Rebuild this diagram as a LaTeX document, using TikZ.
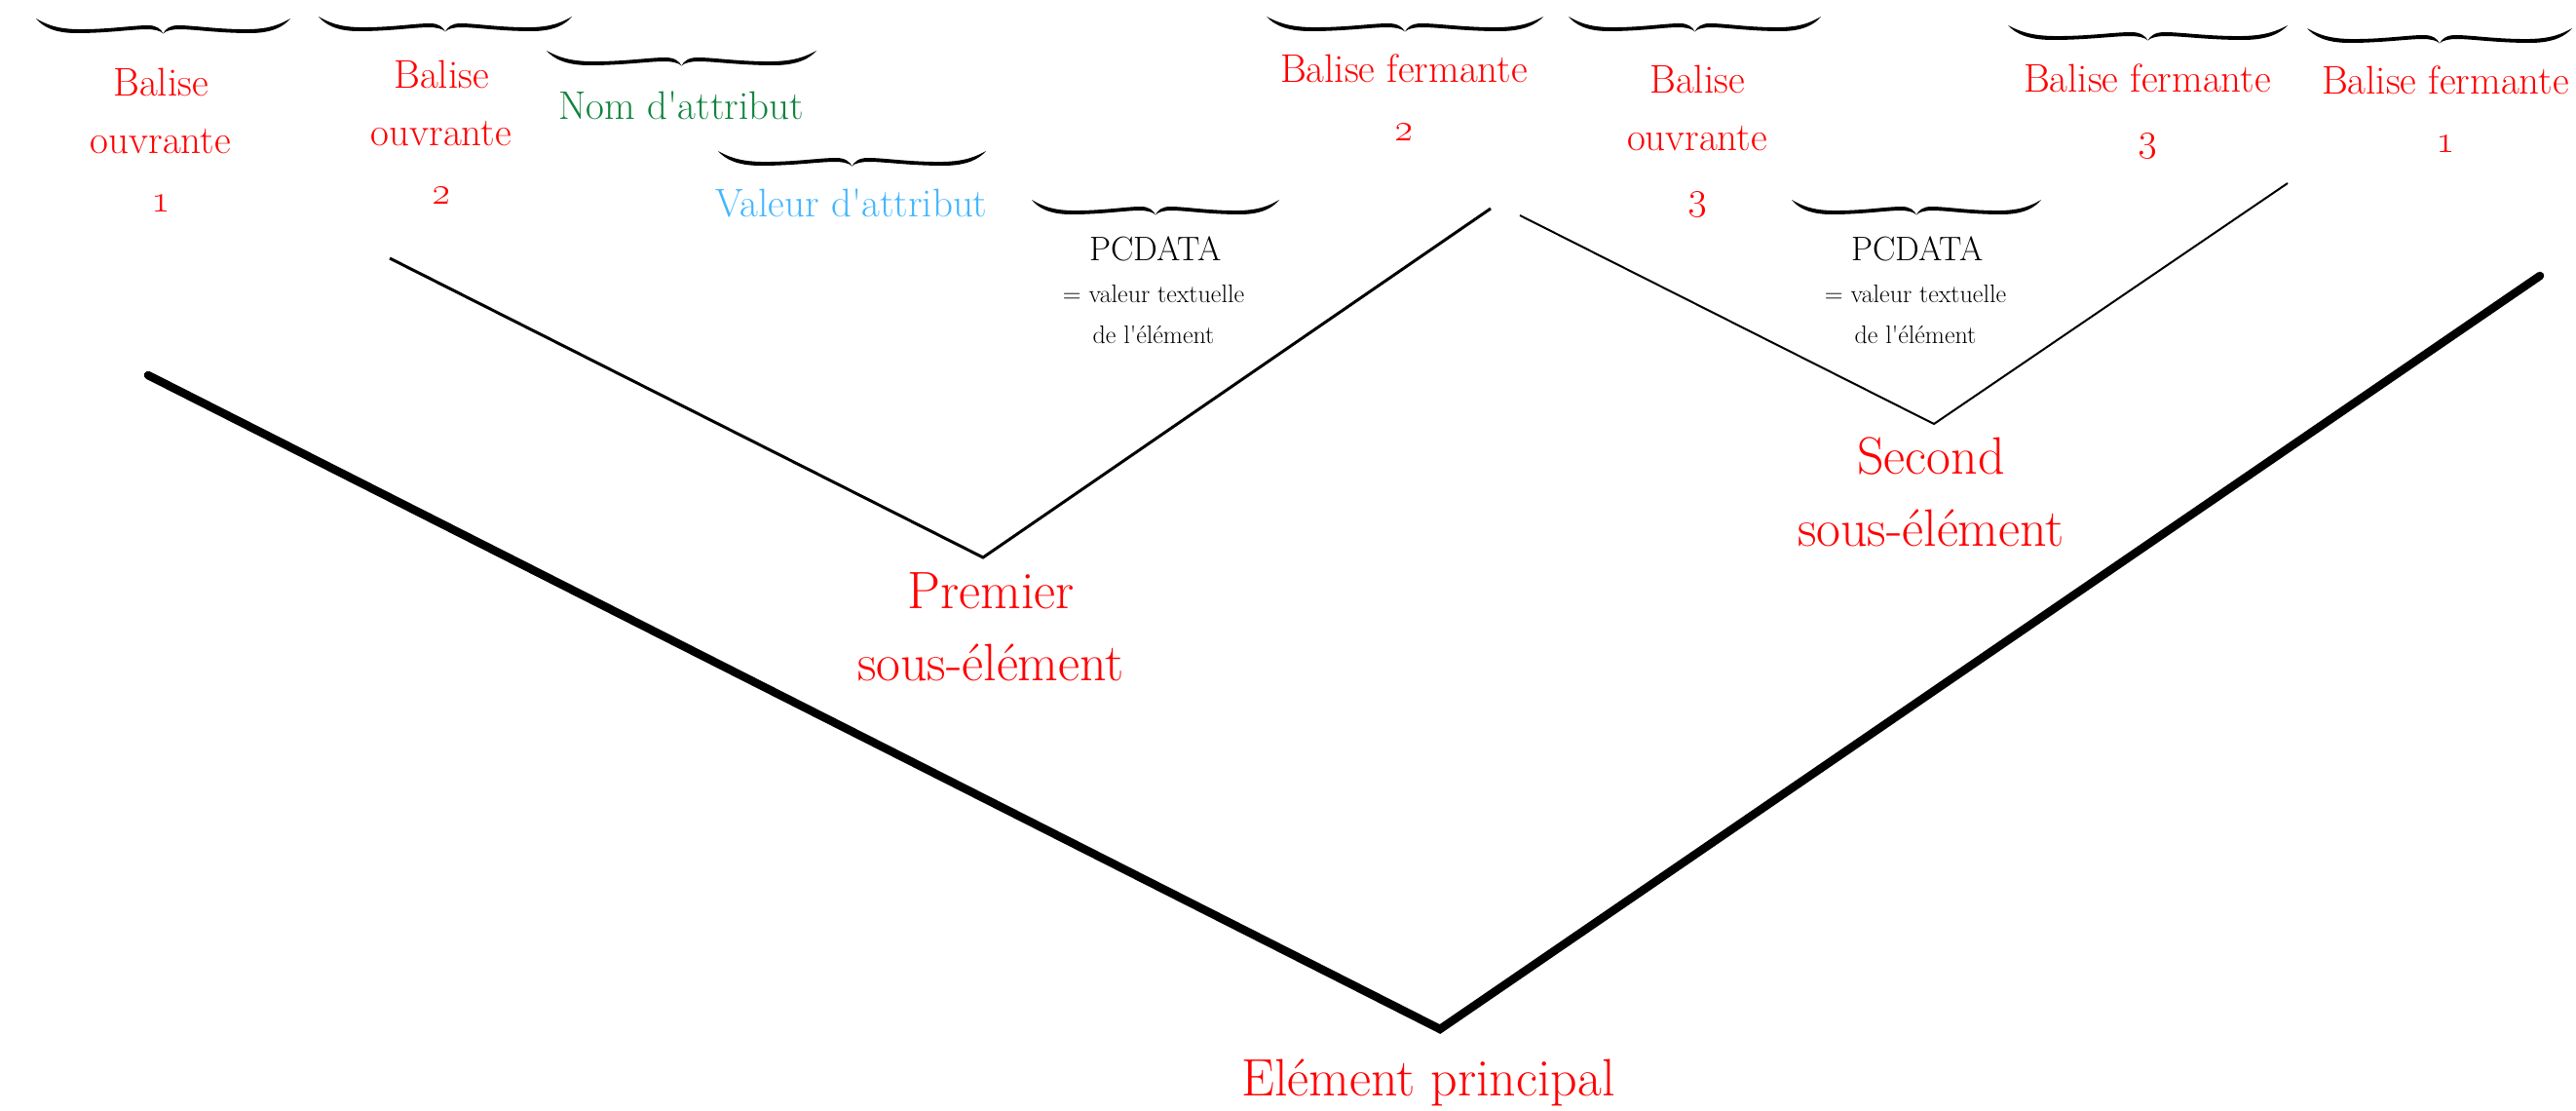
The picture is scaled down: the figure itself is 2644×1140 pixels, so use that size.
\RequirePackage{fix-cm}
\documentclass[tikz,border=0pt]{standalone}
\definecolor{lred}{RGB}{255,0,0}
\definecolor{lgreen}{RGB}{16,132,62}
\definecolor{lblue}{RGB}{66,182,255}
\tikzset{
  lbl/.style={font=\fontsize{41}{59.5}\selectfont, text=lred, align=center, inner sep=0pt, anchor=base},
  big/.style={font=\fontsize{54}{74}\selectfont, text=lred, align=center, inner sep=0pt, anchor=base},
  pchead/.style={font=\fontsize{35}{43}\selectfont, align=center, inner sep=0pt, anchor=base},
  pcbody/.style={font=\fontsize{26}{42}\selectfont, align=center, inner sep=0pt, anchor=base},
  thickline/.style={line width=8.5pt, line cap=round, line join=miter},
  midline/.style={line width=3pt, line join=miter},
  thinline/.style={line width=2pt, line join=miter},
}
\newcommand\ap{\textquotesingle}
\newcommand\mybrace[3]{%
  \fill[shift={(#1,#2)}, xscale=#3]
    (0,0) .. controls (0.04,6) and (0.08,10.5) .. (0.16,11)
    .. controls (0.28,11.5) and (0.38,7) .. (0.44,7)
    .. controls (0.475,7) and (0.492,11) .. (0.5,15.5)
    .. controls (0.508,11) and (0.525,7) .. (0.56,7)
    .. controls (0.62,7) and (0.72,11.5) .. (0.84,11)
    .. controls (0.92,10.5) and (0.96,6) .. (1,0)
    .. controls (0.975,8) and (0.93,15) .. (0.84,15)
    .. controls (0.72,15) and (0.62,11) .. (0.565,11)
    .. controls (0.535,11) and (0.51,12.5) .. (0.5,15.5)
    .. controls (0.49,12.5) and (0.465,11) .. (0.435,11)
    .. controls (0.38,11) and (0.28,15) .. (0.16,15)
    .. controls (0.07,15) and (0.025,8) .. (0,0) -- cycle;}
\begin{document}
\begin{tikzpicture}[x=1pt, y=-1pt]
\useasboundingbox (0,0) rectangle (2644,1140);

% braces
\mybrace{37}{19}{261}
\mybrace{327}{17}{260}
\mybrace{561}{52}{277}
\mybrace{737}{155}{275}
\mybrace{1059}{205}{254}
\mybrace{1300}{17}{284}
\mybrace{1610}{17}{259}
\mybrace{1839}{205}{256}
\mybrace{2061}{26}{287}
\mybrace{2368}{29}{272}

% labels (base anchor = baseline of the last line)
\node[lbl] (bo1) at (165,217) {Balise\\ouvrante\\\oldstylenums{1}};
\node[lbl] (bo2) at (453,209) {Balise\\ouvrante\\\oldstylenums{2}};
\node[lbl, text=lgreen] (nom) at (699,122) {Nom d\ap attribut};
\node[lbl, text=lblue] (val) at (874,222) {Valeur d\ap attribut};
\node[pchead] (pc1a) at (1186,267) {PCDATA};
\node[pcbody] (pc1b) at (1184,352) {= valeur textuelle\\de l\ap élément};
\node[lbl] (bf2) at (1441,144) {Balise fermante\\\oldstylenums{2}};
\node[lbl] (bo3) at (1742,214) {Balise\\ouvrante\\\oldstylenums{3}};
\node[lbl] (bf3) at (2204,154) {Balise fermante\\\oldstylenums{3}};
\node[lbl] (bf1) at (2510,156) {Balise fermante\\\oldstylenums{1}};
\node[pchead] (pc2a) at (1968,267) {PCDATA};
\node[pcbody] (pc2b) at (1966,352) {= valeur textuelle\\de l\ap élément};
\node[big] (prem) at (1017,698) {Premier\\sous-élément};
\node[big] (sec) at (1982,560) {Second\\sous-élément};
\node[big] (main) at (1466,1124) {Elément principal};

% tree lines
\coordinate (tA) at (152,385);
\coordinate (tV) at (1478,1056);
\coordinate (tB) at (2607,283);
\coordinate (pA) at (400,265);
\coordinate (pV) at (1009,572);
\coordinate (pB) at (1530,214);
\coordinate (sA) at (1560,221);
\coordinate (sV) at (1985,435);
\coordinate (sB) at (2348,188);
\draw[thickline] (tA) -- (tV) -- (tB);
\draw[midline] (pA) -- (pV) -- (pB);
\draw[thinline] (sA) -- (sV) -- (sB);
\end{tikzpicture}
\end{document}
